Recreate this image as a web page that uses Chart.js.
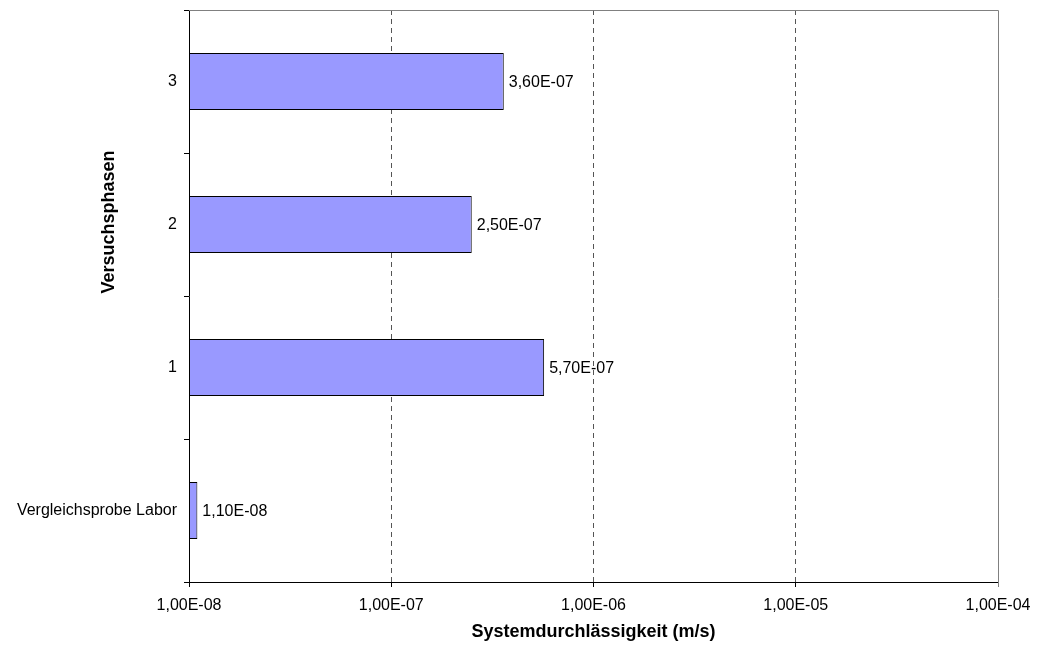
<!DOCTYPE html>
<html lang="de">
<head>
<meta charset="utf-8">
<title>Systemdurchlässigkeit</title>
<script src="https://cdn.jsdelivr.net/npm/chart.js@4"></script>
<style>
  html, body { margin: 0; padding: 0; background: #fff; }
  #chart { display: block; }
</style>
</head>
<body>
<canvas id="chart" width="1039" height="653"></canvas>
<script>
// Versuchsphasen (von unten nach oben)
const categories = ["Vergleichsprobe Labor", "1", "2", "3"];
// Systemdurchlässigkeit in m/s
const values = [1.1e-8, 5.7e-7, 2.5e-7, 3.6e-7];
// Beschriftung der logarithmischen x-Achse
const xTickValues = [1e-8, 1e-7, 1e-6, 1e-5, 1e-4];
const xTickLabels = ["1,00E-08", "1,00E-07", "1,00E-06", "1,00E-05", "1,00E-04"];

const FONT = "Arial, 'Liberation Sans', sans-serif";

// Zahl im Excel-Format, z.B. 3,60E-07
function formatSci(v) {
  let exp = Math.floor(Math.log10(v));
  let mant = v / Math.pow(10, exp);
  if (mant >= 9.995) { mant /= 10; exp += 1; }
  const sign = exp < 0 ? "-" : "+";
  return mant.toFixed(2).replace(".", ",") + "E" + sign + String(Math.abs(exp)).padStart(2, "0");
}

// Werte rechts neben den Balken
const valueLabels = {
  id: "valueLabels",
  afterDatasetsDraw(chart) {
    const ctx = chart.ctx;
    const meta = chart.getDatasetMeta(0);
    ctx.save();
    ctx.font = "16px " + FONT;
    ctx.fillStyle = "#000";
    ctx.textAlign = "left";
    ctx.textBaseline = "middle";
    meta.data.forEach((bar, i) => {
      ctx.fillText(formatSci(values[i]), bar.x + 5, bar.y + 1);
    });
    ctx.restore();
  }
};

// grauer Rahmen oben/rechts und Titel der y-Achse
const frame = {
  id: "frame",
  beforeDatasetsDraw(chart) {
    const { ctx, chartArea: a } = chart;
    ctx.save();
    ctx.strokeStyle = "#808080";
    ctx.lineWidth = 1;
    ctx.beginPath();
    ctx.moveTo(a.left, Math.floor(a.top) + 0.5);
    ctx.lineTo(Math.floor(a.right) + 0.5, Math.floor(a.top) + 0.5);
    ctx.lineTo(Math.floor(a.right) + 0.5, a.bottom + 5);
    ctx.stroke();
    ctx.restore();
  },
  afterDraw(chart) {
    const ctx = chart.ctx;
    ctx.save();
    ctx.translate(109, 222);
    ctx.rotate(-Math.PI / 2);
    ctx.font = "bold 18px " + FONT;
    ctx.fillStyle = "#000";
    ctx.textAlign = "center";
    ctx.textBaseline = "middle";
    ctx.fillText("Versuchsphasen", 0, 0);
    ctx.restore();
  }
};

const ctx = document.getElementById("chart").getContext("2d");
new Chart(ctx, {
  type: "bar",
  data: {
    labels: categories,
    datasets: [{
      data: values,
      backgroundColor: "#9999FF",
      borderColor: "#000",
      borderWidth: 1,
      borderSkipped: false,
      categoryPercentage: 1.0,
      barPercentage: 0.4
    }]
  },
  options: {
    indexAxis: "y",
    responsive: false,
    animation: false,
    devicePixelRatio: 1,
    layout: { padding: { top: 10, right: 41, left: 0, bottom: 0 } },
    plugins: {
      legend: { display: false },
      tooltip: { enabled: false }
    },
    scales: {
      x: {
        type: "logarithmic",
        min: 1e-8,
        max: 1e-4,
        afterBuildTicks: (scale) => {
          scale.ticks = xTickValues.map(v => ({ value: v }));
        },
        afterFit: (scale) => {
          scale.height = 71;
          scale.paddingLeft = 0;
          scale.paddingRight = 0;
        },
        ticks: {
          autoSkip: false,
          maxRotation: 0,
          padding: 9,
          color: "#000",
          font: { family: FONT, size: 16 },
          callback: (value, index) => xTickLabels[index]
        },
        grid: {
          color: (c) => (c.index === 0 || c.index === xTickValues.length - 1) ? "rgba(0,0,0,0)" : "#555",
          tickColor: "#000",
          tickLength: 5,
          lineWidth: 1
        },
        border: { display: true, color: "#000", width: 1, dash: [5, 4] },
        title: {
          display: true,
          text: "Systemdurchlässigkeit (m/s)",
          color: "#000",
          font: { family: FONT, size: 18, weight: "bold" },
          padding: { top: 0, bottom: 10 }
        }
      },
      y: {
        reverse: true,
        afterFit: (scale) => {
          scale.width = 189;
          scale.paddingTop = 0;
          scale.paddingBottom = 0;
        },
        ticks: {
          padding: 7,
          color: "#000",
          font: { family: FONT, size: 16 }
        },
        grid: {
          offset: true,
          drawOnChartArea: false,
          drawTicks: true,
          tickLength: 5,
          color: "#000"
        },
        border: { display: true, color: "#000", width: 1 }
      }
    }
  },
  plugins: [valueLabels, frame]
});
</script>
</body>
</html>
